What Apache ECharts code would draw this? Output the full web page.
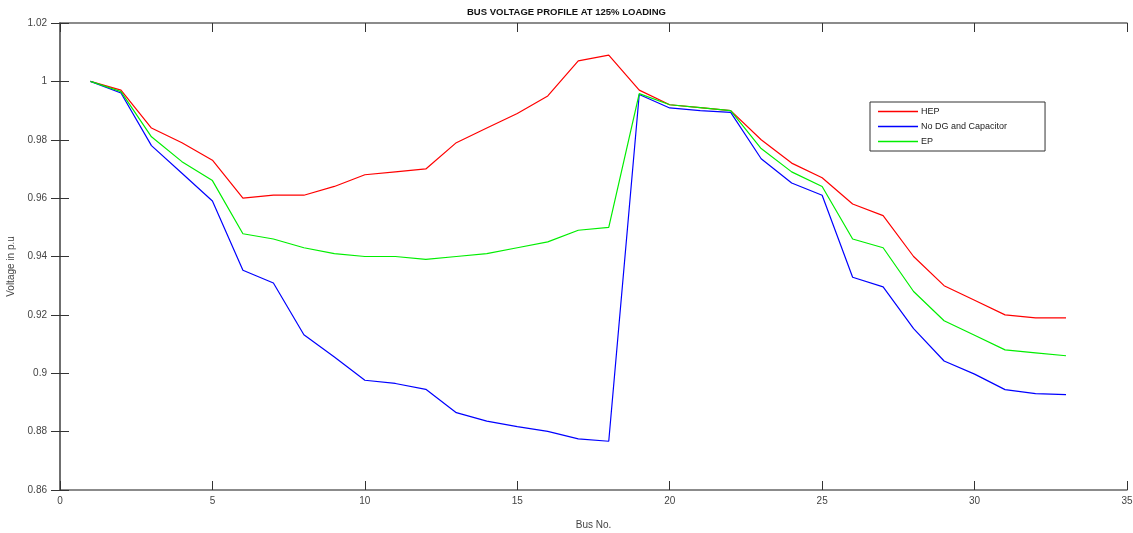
<!DOCTYPE html>
<html>
<head>
<meta charset="utf-8">
<script src="https://cdn.jsdelivr.net/npm/echarts@6/dist/echarts.min.js"></script>
<style>html,body{margin:0;padding:0;background:#fff}#c{width:1133px;height:533px}</style>
</head>
<body>
<div id="c"></div>
<script>
const buses = [1,2,3,4,5,6,7,8,9,10,11,12,13,14,15,16,17,18,19,20,21,22,23,24,25,26,27,28,29,30,31,32,33];
const hep = [1.000,0.997,0.984,0.979,0.973,0.960,0.961,0.961,0.964,0.968,0.969,0.970,0.979,0.984,0.989,0.995,1.007,1.009,0.997,0.992,0.991,0.990,0.980,0.972,0.967,0.958,0.954,0.940,0.930,0.925,0.920,0.919,0.919];
const noDG = [1.000,0.996,0.978,0.9685,0.959,0.9353,0.9309,0.9132,0.9056,0.8976,0.8965,0.8945,0.8865,0.8836,0.8817,0.8801,0.8775,0.8767,0.9955,0.9909,0.990,0.9894,0.9735,0.9652,0.961,0.9329,0.9296,0.9153,0.9042,0.8997,0.8944,0.8930,0.8927];
const ep = [1.000,0.9965,0.981,0.9725,0.966,0.9478,0.946,0.943,0.941,0.940,0.940,0.939,0.940,0.941,0.943,0.945,0.949,0.950,0.9958,0.992,0.991,0.990,0.977,0.969,0.964,0.946,0.943,0.928,0.918,0.913,0.908,0.907,0.906];
const seriesNames = ['HEP','No DG and Capacitor','EP'];
const xTicks = {min:0,max:35,interval:5};
const yTicks = {min:0.86,max:1.02,interval:0.02};

const chart = echarts.init(document.getElementById('c'));
const axisLine = {show:true,lineStyle:{color:'#666',width:1.5}};
const tick = {show:true,inside:true,length:9,lineStyle:{color:'#333',width:1}};
const ff = 'Liberation Sans, Arial, sans-serif';
const lab = {color:'#444',fontSize:10,fontFamily:ff};
function mk(vals){return buses.map((b,i)=>[b,vals[i]]);}
chart.setOption({
  animation:false,
  backgroundColor:'#fff',
  title:{text:'BUS VOLTAGE PROFILE AT 125% LOADING',left:'center',top:2,
    textStyle:{fontSize:9.5,fontWeight:'bold',color:'#111',fontFamily:ff}},
  grid:{left:60,right:6,top:23,bottom:43,containLabel:false,outerBoundsMode:'none'},
  legend:{orient:'vertical',left:870,top:102,itemWidth:40,itemHeight:1.5,itemGap:6,
    icon:'rect',padding:[5,38,5,8],borderColor:'#333',borderWidth:1,
    textStyle:{fontSize:9,color:'#222',fontFamily:ff,padding:[0,0,0,-2]},
    data:seriesNames},
  xAxis:[
    {type:'value',min:xTicks.min,max:xTicks.max,interval:xTicks.interval,position:'bottom',
      name:'Bus No.',nameLocation:'middle',nameGap:30,nameTextStyle:{fontSize:10,color:'#444',fontFamily:ff},
      axisLine:axisLine,axisTick:tick,axisLabel:Object.assign({margin:6},lab),splitLine:{show:false}},
    {type:'value',min:xTicks.min,max:xTicks.max,interval:xTicks.interval,position:'top',
      axisLine:axisLine,axisTick:tick,axisLabel:{show:false},splitLine:{show:false}}
  ],
  yAxis:[
    {type:'value',min:yTicks.min,max:yTicks.max,interval:yTicks.interval,position:'left',
      name:'Voltage in p.u',nameLocation:'middle',nameGap:40,
      nameTextStyle:{fontSize:10,color:'#444',fontFamily:ff,padding:[0,20,0,0]},
      axisLine:axisLine,axisTick:tick,axisLabel:Object.assign({margin:13},lab),splitLine:{show:false}},
    {type:'value',min:yTicks.min,max:yTicks.max,interval:yTicks.interval,position:'right',
      axisLine:axisLine,axisTick:tick,axisLabel:{show:false},splitLine:{show:false}}
  ],
  series:[
    {name:seriesNames[0],type:'line',data:mk(hep),symbol:'none',lineStyle:{color:'#ff0000',width:1.2},itemStyle:{color:'#ff0000'}},
    {name:seriesNames[1],type:'line',data:mk(noDG),symbol:'none',lineStyle:{color:'#0000ff',width:1.2},itemStyle:{color:'#0000ff'}},
    {name:seriesNames[2],type:'line',data:mk(ep),symbol:'none',lineStyle:{color:'#00ee00',width:1.2},itemStyle:{color:'#00ee00'}}
  ]
});
</script>
</body>
</html>
